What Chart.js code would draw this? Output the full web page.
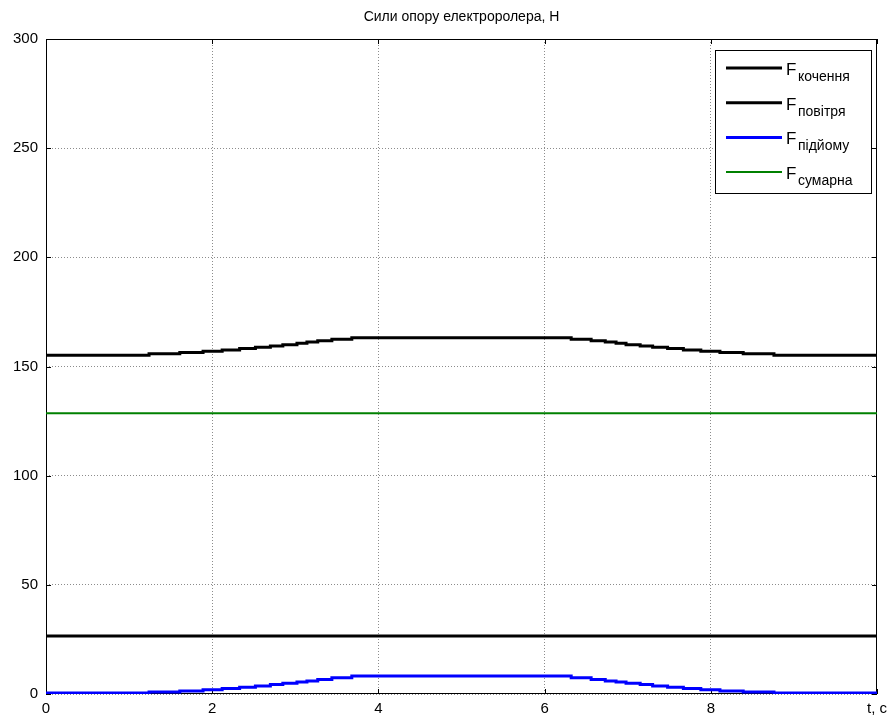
<!DOCTYPE html>
<html>
<head>
<meta charset="utf-8">
<title>Сили опору електроролера</title>
<script src="https://cdn.jsdelivr.net/npm/chart.js@4/dist/chart.umd.min.js"></script>
<style>
  body { margin: 0; background: #fff; }
  #wrap { width: 893px; height: 724px; }
</style>
</head>
<body>
<div id="wrap"><canvas id="graph" width="893" height="724"></canvas></div>
<script>
// time axis, s
const xTicks = [0, 2, 4, 6, 8, 10];
const yTicks = [0, 50, 100, 150, 200, 250, 300];

// moments where the stepped curves change level
const timeSteps = [
  0, 1.24, 1.61, 1.89, 2.12, 2.33, 2.52, 2.7, 2.85, 3.02, 3.14, 3.27, 3.44, 3.68,
  6.32, 6.56, 6.73, 6.86, 6.98, 7.15, 7.3, 7.48, 7.67, 7.88, 8.11, 8.39, 8.76, 10,
];

// force levels, N
const rollForce = [26.6, 26.6];
const constTime = [0, 10];
const totalForce = [
  155.2, 155.8, 156.4, 157.0, 157.6, 158.2, 158.8, 159.4, 160.0, 160.6, 161.2, 161.8, 162.5, 163.2,
  162.5, 161.8, 161.2, 160.6, 160.0, 159.4, 158.8, 158.2, 157.6, 157.0, 156.4, 155.8, 155.2, 155.2,
];
const liftForce = [
  0.5, 0.9, 1.4, 1.9, 2.5, 3.1, 3.7, 4.3, 4.9, 5.5, 6.0, 6.6, 7.4, 8.2,
  7.4, 6.6, 6.0, 5.5, 4.9, 4.3, 3.7, 3.1, 2.5, 1.9, 1.4, 0.9, 0.5, 0.5,
];
const airForce = [128.6, 128.6];

const legendNames = ["кочення", "повітря", "підйому", "сумарна"];

function toPoints(xs, ys) {
  return xs.map((x, i) => ({ x: x, y: ys[i] }));
}

const FONT = "'Liberation Sans', Arial, sans-serif";

// axes box, inward ticks, title and legend
const matlabLook = {
  id: "matlabLook",
  beforeDatasetsDraw(chart) {
    const { ctx, chartArea: a } = chart;
    ctx.save();
    ctx.strokeStyle = "#000";
    ctx.lineWidth = 1;
    ctx.strokeRect(a.left + 0.5, a.top + 0.5, a.right - a.left - 1, a.bottom - a.top - 1);
    const tl = 5;
    ctx.beginPath();
    chart.scales.x.ticks.forEach((t) => {
      const px = Math.round(chart.scales.x.getPixelForValue(t.value)) + 0.5;
      ctx.moveTo(px, a.bottom);
      ctx.lineTo(px, a.bottom - tl);
      ctx.moveTo(px, a.top);
      ctx.lineTo(px, a.top + tl);
    });
    chart.scales.y.ticks.forEach((t) => {
      const py = Math.round(chart.scales.y.getPixelForValue(t.value)) + 0.5;
      ctx.moveTo(a.left, py);
      ctx.lineTo(a.left + tl, py);
      ctx.moveTo(a.right, py);
      ctx.lineTo(a.right - tl, py);
    });
    ctx.stroke();
    ctx.restore();
  },
  afterDraw(chart) {
    const { ctx, chartArea: a } = chart;
    ctx.save();
    ctx.fillStyle = "#000";
    ctx.font = "14px " + FONT;
    ctx.textAlign = "center";
    ctx.textBaseline = "middle";
    ctx.fillText("Сили опору електроролера, Н", (a.left + a.right) / 2, 17);

    // legend
    const bx = 715, by = 50, bw = 156, bh = 143;
    ctx.fillStyle = "#fff";
    ctx.fillRect(bx, by, bw, bh);
    ctx.strokeStyle = "#000";
    ctx.lineWidth = 1;
    ctx.strokeRect(bx + 0.5, by + 0.5, bw, bh);
    chart.data.datasets.forEach((ds, i) => {
      const y = 68 + i * 34.7;
      ctx.strokeStyle = ds.borderColor;
      ctx.lineWidth = ds.borderWidth;
      ctx.beginPath();
      ctx.moveTo(726, y);
      ctx.lineTo(782, y);
      ctx.stroke();
      ctx.fillStyle = "#000";
      ctx.textAlign = "left";
      ctx.textBaseline = "alphabetic";
      ctx.font = "17px " + FONT;
      ctx.fillText("F", 786, y + 7);
      ctx.font = "14px " + FONT;
      ctx.fillText(legendNames[i], 798, y + 13);
    });
    ctx.restore();
  },
};

new Chart(document.getElementById("graph"), {
  type: "line",
  data: {
    datasets: [
      {
        label: "F кочення",
        data: toPoints(constTime, rollForce),
        borderColor: "#000000",
        borderWidth: 3,
      },
      {
        label: "F повітря",
        data: toPoints(timeSteps, totalForce),
        borderColor: "#000000",
        borderWidth: 3,
        stepped: true,
      },
      {
        label: "F підйому",
        data: toPoints(timeSteps, liftForce),
        borderColor: "#0000ff",
        borderWidth: 3,
        stepped: true,
      },
      {
        label: "F сумарна",
        data: toPoints(constTime, airForce),
        borderColor: "#008000",
        borderWidth: 2,
      },
    ],
  },
  options: {
    responsive: false,
    animation: false,
    layout: { padding: { top: 39, right: 16, left: 0, bottom: 0 } },
    elements: { point: { radius: 0 }, line: { tension: 0 } },
    plugins: { legend: { display: false }, title: { display: false }, tooltip: { enabled: false } },
    scales: {
      x: {
        type: "linear",
        min: 0,
        max: 10,
        afterFit: (s) => { s.height = 30; },
        afterBuildTicks: (s) => { s.ticks = xTicks.map((v) => ({ value: v })); },
        ticks: {
          color: "#000",
          font: { family: FONT, size: 15 },
          padding: 6,
          maxRotation: 0,
          callback: (v) => (v === 10 ? "t, c" : v),
        },
        grid: { color: "rgba(0,0,0,0.45)", drawTicks: false, lineWidth: 1 },
        border: { display: false, dash: [1, 2] },
      },
      y: {
        min: 0,
        max: 300,
        afterFit: (s) => { s.width = 46; },
        afterBuildTicks: (s) => { s.ticks = yTicks.map((v) => ({ value: v })); },
        ticks: {
          color: "#000",
          font: { family: FONT, size: 15 },
          padding: 8,
        },
        grid: { color: "rgba(0,0,0,0.45)", drawTicks: false, lineWidth: 1 },
        border: { display: false, dash: [1, 2] },
      },
    },
  },
  plugins: [matlabLook],
});
</script>
</body>
</html>
